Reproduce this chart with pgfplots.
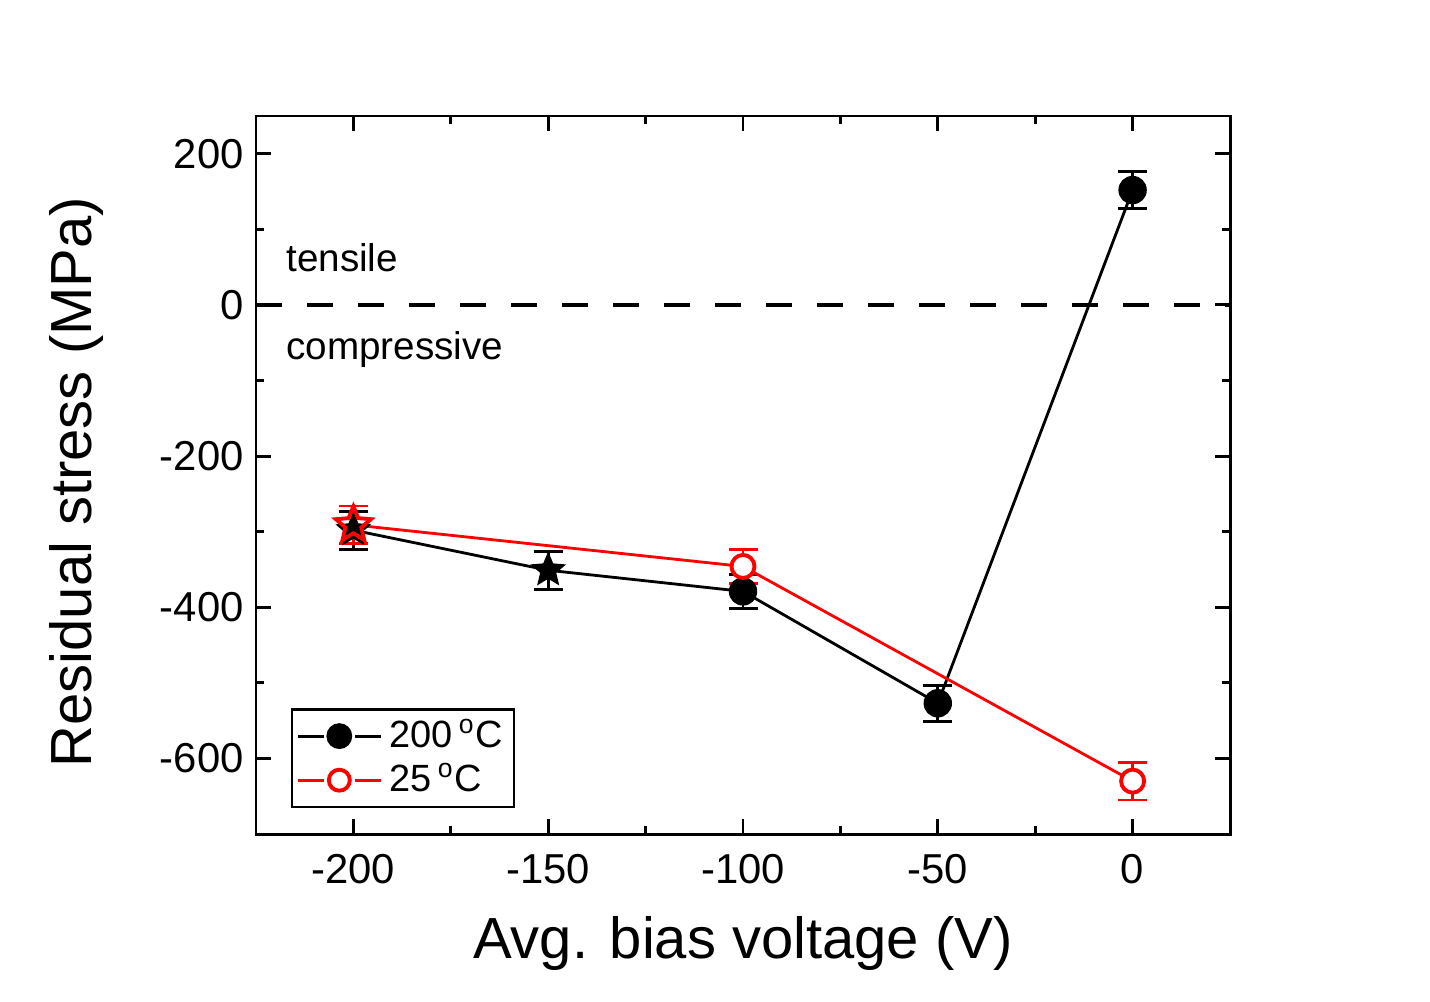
\documentclass[border=0pt]{standalone}
\usepackage{pgfplots}
\pgfplotsset{compat=1.18}
\usepackage{fontspec}
\setmainfont{Liberation Sans}

\pgfdeclareplotmark{fstar}{%
  \pgfpathmoveto{\pgfpointpolar{90}{\pgfplotmarksize}}%
  \pgfpathlineto{\pgfpointpolar{126}{0.45\pgfplotmarksize}}%
  \pgfpathlineto{\pgfpointpolar{162}{\pgfplotmarksize}}%
  \pgfpathlineto{\pgfpointpolar{198}{0.45\pgfplotmarksize}}%
  \pgfpathlineto{\pgfpointpolar{234}{\pgfplotmarksize}}%
  \pgfpathlineto{\pgfpointpolar{270}{0.45\pgfplotmarksize}}%
  \pgfpathlineto{\pgfpointpolar{306}{\pgfplotmarksize}}%
  \pgfpathlineto{\pgfpointpolar{342}{0.45\pgfplotmarksize}}%
  \pgfpathlineto{\pgfpointpolar{18}{\pgfplotmarksize}}%
  \pgfpathlineto{\pgfpointpolar{54}{0.45\pgfplotmarksize}}%
  \pgfpathclose
  \pgfusepathqfillstroke
}
\pgfdeclareplotmark{ostar}{%
  \pgfpathmoveto{\pgfpointpolar{90}{\pgfplotmarksize}}%
  \pgfpathlineto{\pgfpointpolar{126}{0.45\pgfplotmarksize}}%
  \pgfpathlineto{\pgfpointpolar{162}{\pgfplotmarksize}}%
  \pgfpathlineto{\pgfpointpolar{198}{0.45\pgfplotmarksize}}%
  \pgfpathlineto{\pgfpointpolar{234}{\pgfplotmarksize}}%
  \pgfpathlineto{\pgfpointpolar{270}{0.45\pgfplotmarksize}}%
  \pgfpathlineto{\pgfpointpolar{306}{\pgfplotmarksize}}%
  \pgfpathlineto{\pgfpointpolar{342}{0.45\pgfplotmarksize}}%
  \pgfpathlineto{\pgfpointpolar{18}{\pgfplotmarksize}}%
  \pgfpathlineto{\pgfpointpolar{54}{0.45\pgfplotmarksize}}%
  \pgfpathclose
  \pgfusepathqstroke
}

\begin{document}
\begin{tikzpicture}
\begin{axis}[
  at={(0,0)}, anchor=south west,
  scale only axis, width=97.4mm, height=71.8mm,
  xmin=-225, xmax=25, ymin=-700, ymax=250,
  xtick={-200,-150,-100,-50,0},
  ytick={-600,-400,-200,0,200},
  minor x tick num=1, minor y tick num=1,
  tick align=inside,
  major tick length=1.5mm, minor tick length=0.8mm,
  axis line style={line width=0.85pt},
  tick style={line width=0.85pt, black},
  /pgf/number format/assume math mode=true,
  ticklabel style={font=\fontsize{11.9}{14}\selectfont},
  xticklabel style={yshift=-0.8mm},
  xlabel={Avg. bias voltage (V)},
  ylabel={Residual stress (MPa)},
  label style={font=\fontsize{16.5}{20}\selectfont},
  xlabel style={at={(axis description cs:0.5,-0.1518)}, anchor=center},
  ylabel style={at={(axis description cs:-0.1838,0.49)}, anchor=center},
  legend style={at={(axis description cs:0.0359,0.0362)}, anchor=south west,
    draw=black, line width=0.7pt, font=\fontsize{10.8}{12}\selectfont,
    row sep=-1pt, inner xsep=1.2pt, inner ysep=0.8pt, cells={anchor=west}},
  legend image code/.code={%
    \draw (0cm,0cm) -- (0.26cm,0cm);
    \draw (0.57cm,0cm) -- (0.83cm,0cm);
    \draw plot coordinates {(0.415cm,0cm)};},
]
\addlegendimage{black, line width=0.8pt, mark=*, mark size=1.15mm}
\addlegendentry{200\,\textsuperscript{o}C}
\addlegendimage{red, line width=0.8pt, mark=*, mark size=1.05mm, mark options={fill=white, draw=red, line width=1.1pt}}
\addlegendentry{25\,\textsuperscript{o}C}

% zero line
\addplot[black, line width=1.15pt, dash pattern=on 2.6mm off 2.5mm, forget plot] coordinates {(-225,0) (25,0)};

% 200 C series
\addplot[black, line width=0.8pt, forget plot] coordinates {(-200,-298) (-150,-351) (-100,-379) (-50,-527) (0,152)};
\addplot[black, only marks, mark=fstar, mark size=1.7mm, forget plot,
  error bars/.cd, y dir=both, y explicit,
  error bar style={line width=0.85pt},
  error mark options={rotate=90, mark size=1.45mm, line width=0.85pt}]
  coordinates {(-200,-298) +- (0,25) (-150,-351) +- (0,25)};
\addplot[black, only marks, mark=*, mark size=1.35mm, forget plot,
  error bars/.cd, y dir=both, y explicit,
  error bar style={line width=0.85pt},
  error mark options={rotate=90, mark size=1.45mm, line width=0.85pt}]
  coordinates {(-100,-379) +- (0,22) (-50,-527) +- (0,24) (0,152) +- (0,25)};

% 25 C series
\addplot[red, line width=0.8pt, forget plot] coordinates {(-200,-291) (-100,-346) (0,-630)};
\addplot[red, only marks, mark=ostar, mark size=1.85mm, mark options={line width=1.1pt}, forget plot,
  error bars/.cd, y dir=both, y explicit,
  error bar style={line width=0.85pt},
  error mark options={rotate=90, mark size=1.45mm, line width=0.85pt}]
  coordinates {(-200,-291) +- (0,25)};
\addplot[red, only marks, mark=*, mark size=1.15mm, mark options={fill=white, draw=red, line width=1.1pt}, forget plot,
  error bars/.cd, y dir=both, y explicit,
  error bar style={line width=0.85pt},
  error mark options={rotate=90, mark size=1.45mm, line width=0.85pt}]
  coordinates {(-100,-346) +- (0,23) (0,-630) +- (0,25)};

\node[anchor=base west, inner sep=0pt, font=\fontsize{11}{13}\selectfont] at (axis cs:-217.4,44) {tensile};
\node[anchor=base west, inner sep=0pt, font=\fontsize{11}{13}\selectfont] at (axis cs:-217.4,-72) {compressive};
\end{axis}
\pgfresetboundingbox
\path[use as bounding box] (-25.6mm,-16.7mm) rectangle (117.4mm,83.4mm);
\end{tikzpicture}
\end{document}
